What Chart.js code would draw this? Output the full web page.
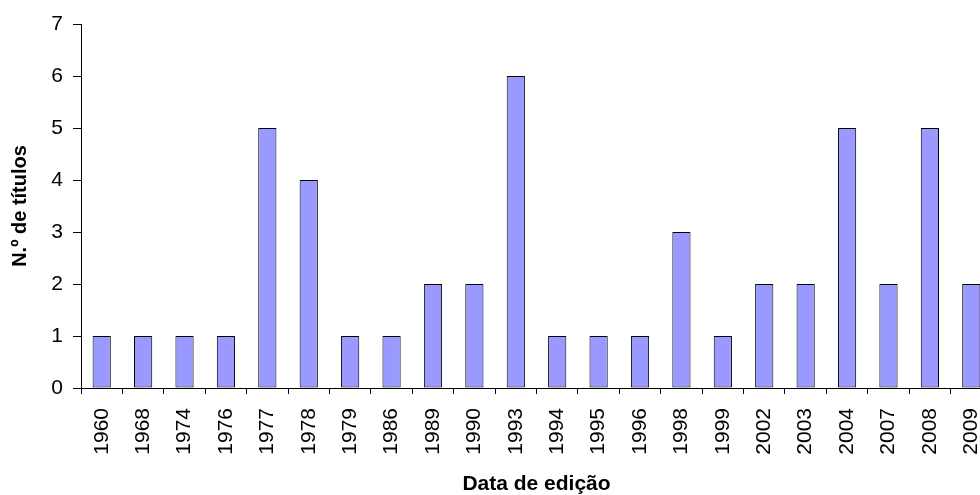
<!DOCTYPE html>
<html>
<head>
<meta charset="utf-8">
<script src="https://cdn.jsdelivr.net/npm/chart.js@4"></script>
<style>
    html, body { margin: 0; padding: 0; background: #ffffff; overflow: hidden; }
    #chart { display: block; }
</style>
</head>
<body>
<canvas id="chart" width="992" height="495"></canvas>
<script>
// Dane wykresu
const years = ['1960', '1968', '1974', '1976', '1977', '1978', '1979', '1986', '1989', '1990', '1993',
    '1994', '1995', '1996', '1998', '1999', '2002', '2003', '2004', '2007', '2008', '2009'];
const titles = [1, 1, 1, 1, 5, 4, 1, 1, 2, 2, 6, 1, 1, 1, 3, 1, 2, 2, 5, 2, 5, 2];
const yTicks = [0, 1, 2, 3, 4, 5, 6, 7];

const xLabel = 'Data de edição';
const yLabel = 'N.º de títulos';

Chart.defaults.font.family = '"Liberation Sans", Arial, sans-serif';
Chart.defaults.color = '#000000';

var ctx = document.getElementById('chart').getContext('2d');
var chart = new Chart(ctx, {
    type: 'bar',
    data: {
        labels: years,
        datasets: [{
            data: titles,
            backgroundColor: '#9999FF',
            borderColor: '#000000',
            borderWidth: 1,
            borderSkipped: false,
            categoryPercentage: 1,
            barPercentage: 0.44
        }]
    },
    options: {
        responsive: false,
        animation: false,
        layout: {
            padding: { top: 24, right: 0, bottom: 0, left: 0 }
        },
        plugins: {
            legend: { display: false },
            tooltip: { enabled: false }
        },
        scales: {
            x: {
                offset: true,
                grid: {
                    offset: true,
                    drawOnChartArea: false,
                    tickLength: 6,
                    color: '#000000'
                },
                border: { display: true, color: '#000000', width: 1 },
                ticks: {
                    maxRotation: 90,
                    minRotation: 90,
                    autoSkip: false,
                    padding: 14,
                    font: { size: 21 }
                },
                title: {
                    display: true,
                    text: xLabel,
                    font: { size: 21, weight: 'bold', lineHeight: 1 },
                    padding: { top: 0, bottom: 0 }
                },
                // stała wysokość osi X i brak dodatkowego marginesu z prawej
                afterFit: function(scale) {
                    scale.height = 107;
                    scale.paddingRight = 0;
                }
            },
            y: {
                min: 0,
                max: 7,
                afterBuildTicks: function(scale) {
                    scale.ticks = yTicks.map(v => ({ value: v }));
                },
                grid: {
                    drawOnChartArea: false,
                    tickLength: 8,
                    color: '#000000'
                },
                border: { display: true, color: '#000000', width: 1 },
                ticks: {
                    padding: 10,
                    font: { size: 21 }
                },
                title: {
                    display: true,
                    text: yLabel,
                    font: { size: 20, weight: 'bold' },
                    padding: { top: 8, bottom: 0 }
                },
                afterFit: function(scale) {
                    scale.width = 81;
                }
            }
        }
    }
});
</script>
</body>
</html>
